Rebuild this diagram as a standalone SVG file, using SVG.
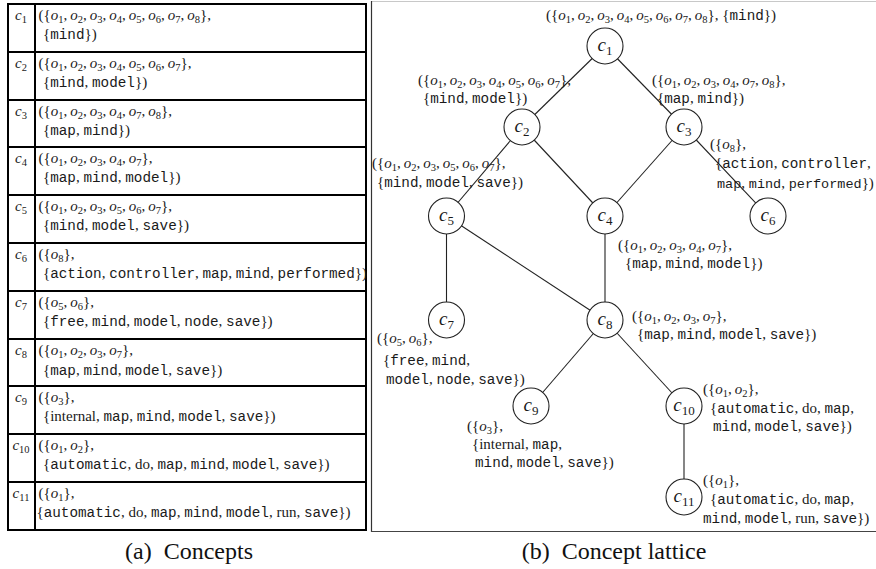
<svg xmlns="http://www.w3.org/2000/svg" width="876" height="569" viewBox="0 0 876 569">
<style>
.t{font-family:"Liberation Serif",serif;font-size:15px;fill:#1a1a1a}
.m{font-family:"Liberation Mono",monospace;font-size:14.3px}
.m2{font-family:"Liberation Mono",monospace;font-size:13.5px}
.i{font-style:italic}
.b{font-size:10.5px;baseline-shift:-3px}
.cap{font-family:"Liberation Serif",serif;font-size:24px;fill:#111;text-anchor:middle}
.nl{font-family:"Liberation Serif",serif;font-size:19px;fill:#1a1a1a;text-anchor:middle}
.nb{font-size:13px;baseline-shift:-4px}
.tb{fill:none;stroke:#000;stroke-width:2}
.edge{stroke:#222;stroke-width:1.1;fill:none}
.node{fill:#fff;stroke:#222;stroke-width:1.1}
</style>
<rect width="876" height="569" fill="#fff"/>

<g id="table">
<rect class="tb" x="8" y="4" width="358" height="526"/>
<path class="tb" d="M35,4V530M8,52H366M8,100H366M8,147H366M8,195H366M8,243H366M8,291H366M8,339H366M8,386H366M8,434H366M8,482H366"/>
<g id="row1">
<text class="t" x="21" y="20" text-anchor="middle"><tspan class="i">c</tspan><tspan class="b">1</tspan></text>
<text class="t" x="38.5" y="20">({<tspan class="i">o</tspan><tspan class="b">1</tspan>,&#8201;<tspan class="i">o</tspan><tspan class="b">2</tspan>,&#8201;<tspan class="i">o</tspan><tspan class="b">3</tspan>,&#8201;<tspan class="i">o</tspan><tspan class="b">4</tspan>,&#8201;<tspan class="i">o</tspan><tspan class="b">5</tspan>,&#8201;<tspan class="i">o</tspan><tspan class="b">6</tspan>,&#8201;<tspan class="i">o</tspan><tspan class="b">7</tspan>,&#8201;<tspan class="i">o</tspan><tspan class="b">8</tspan>},</text>
<text class="t" x="43" y="39">{<tspan class="m">mind</tspan>})</text>
</g>
<g id="row2">
<text class="t" x="21" y="68" text-anchor="middle"><tspan class="i">c</tspan><tspan class="b">2</tspan></text>
<text class="t" x="38.5" y="68">({<tspan class="i">o</tspan><tspan class="b">1</tspan>,&#8201;<tspan class="i">o</tspan><tspan class="b">2</tspan>,&#8201;<tspan class="i">o</tspan><tspan class="b">3</tspan>,&#8201;<tspan class="i">o</tspan><tspan class="b">4</tspan>,&#8201;<tspan class="i">o</tspan><tspan class="b">5</tspan>,&#8201;<tspan class="i">o</tspan><tspan class="b">6</tspan>,&#8201;<tspan class="i">o</tspan><tspan class="b">7</tspan>},</text>
<text class="t" x="43" y="87">{<tspan class="m">mind</tspan>, <tspan class="m">model</tspan>})</text>
</g>
<g id="row3">
<text class="t" x="21" y="116" text-anchor="middle"><tspan class="i">c</tspan><tspan class="b">3</tspan></text>
<text class="t" x="38.5" y="116">({<tspan class="i">o</tspan><tspan class="b">1</tspan>,&#8201;<tspan class="i">o</tspan><tspan class="b">2</tspan>,&#8201;<tspan class="i">o</tspan><tspan class="b">3</tspan>,&#8201;<tspan class="i">o</tspan><tspan class="b">4</tspan>,&#8201;<tspan class="i">o</tspan><tspan class="b">7</tspan>,&#8201;<tspan class="i">o</tspan><tspan class="b">8</tspan>},</text>
<text class="t" x="43" y="135">{<tspan class="m">map</tspan>, <tspan class="m">mind</tspan>})</text>
</g>
<g id="row4">
<text class="t" x="21" y="163" text-anchor="middle"><tspan class="i">c</tspan><tspan class="b">4</tspan></text>
<text class="t" x="38.5" y="163">({<tspan class="i">o</tspan><tspan class="b">1</tspan>,&#8201;<tspan class="i">o</tspan><tspan class="b">2</tspan>,&#8201;<tspan class="i">o</tspan><tspan class="b">3</tspan>,&#8201;<tspan class="i">o</tspan><tspan class="b">4</tspan>,&#8201;<tspan class="i">o</tspan><tspan class="b">7</tspan>},</text>
<text class="t" x="43" y="182">{<tspan class="m">map</tspan>, <tspan class="m">mind</tspan>, <tspan class="m">model</tspan>})</text>
</g>
<g id="row5">
<text class="t" x="21" y="211" text-anchor="middle"><tspan class="i">c</tspan><tspan class="b">5</tspan></text>
<text class="t" x="38.5" y="211">({<tspan class="i">o</tspan><tspan class="b">1</tspan>,&#8201;<tspan class="i">o</tspan><tspan class="b">2</tspan>,&#8201;<tspan class="i">o</tspan><tspan class="b">3</tspan>,&#8201;<tspan class="i">o</tspan><tspan class="b">5</tspan>,&#8201;<tspan class="i">o</tspan><tspan class="b">6</tspan>,&#8201;<tspan class="i">o</tspan><tspan class="b">7</tspan>},</text>
<text class="t" x="43" y="230">{<tspan class="m">mind</tspan>, <tspan class="m">model</tspan>, <tspan class="m">save</tspan>})</text>
</g>
<g id="row6">
<text class="t" x="21" y="259" text-anchor="middle"><tspan class="i">c</tspan><tspan class="b">6</tspan></text>
<text class="t" x="38.5" y="259">({<tspan class="i">o</tspan><tspan class="b">8</tspan>},</text>
<text class="t" x="43" y="278">{<tspan class="m">action</tspan>, <tspan class="m">controller</tspan>, <tspan class="m">map</tspan>, <tspan class="m">mind</tspan>, <tspan class="m">performed</tspan>})</text>
</g>
<g id="row7">
<text class="t" x="21" y="307" text-anchor="middle"><tspan class="i">c</tspan><tspan class="b">7</tspan></text>
<text class="t" x="38.5" y="307">({<tspan class="i">o</tspan><tspan class="b">5</tspan>,&#8201;<tspan class="i">o</tspan><tspan class="b">6</tspan>},</text>
<text class="t" x="43" y="326">{<tspan class="m">free</tspan>, <tspan class="m">mind</tspan>, <tspan class="m">model</tspan>, <tspan class="m">node</tspan>, <tspan class="m">save</tspan>})</text>
</g>
<g id="row8">
<text class="t" x="21" y="355" text-anchor="middle"><tspan class="i">c</tspan><tspan class="b">8</tspan></text>
<text class="t" x="38.5" y="355">({<tspan class="i">o</tspan><tspan class="b">1</tspan>,&#8201;<tspan class="i">o</tspan><tspan class="b">2</tspan>,&#8201;<tspan class="i">o</tspan><tspan class="b">3</tspan>,&#8201;<tspan class="i">o</tspan><tspan class="b">7</tspan>},</text>
<text class="t" x="43" y="375">{<tspan class="m">map</tspan>, <tspan class="m">mind</tspan>, <tspan class="m">model</tspan>, <tspan class="m">save</tspan>})</text>
</g>
<g id="row9">
<text class="t" x="21" y="402" text-anchor="middle"><tspan class="i">c</tspan><tspan class="b">9</tspan></text>
<text class="t" x="38.5" y="402">({<tspan class="i">o</tspan><tspan class="b">3</tspan>},</text>
<text class="t" x="43" y="421">{internal, <tspan class="m">map</tspan>, <tspan class="m">mind</tspan>, <tspan class="m">model</tspan>, <tspan class="m">save</tspan>})</text>
</g>
<g id="row10">
<text class="t" x="21" y="450" text-anchor="middle"><tspan class="i">c</tspan><tspan class="b">10</tspan></text>
<text class="t" x="38.5" y="450">({<tspan class="i">o</tspan><tspan class="b">1</tspan>,&#8201;<tspan class="i">o</tspan><tspan class="b">2</tspan>},</text>
<text class="t" x="43" y="469">{<tspan class="m">automatic</tspan>, do, <tspan class="m">map</tspan>, <tspan class="m">mind</tspan>, <tspan class="m">model</tspan>, <tspan class="m">save</tspan>})</text>
</g>
<g id="row11">
<text class="t" x="21" y="498" text-anchor="middle"><tspan class="i">c</tspan><tspan class="b">11</tspan></text>
<text class="t" x="38.5" y="498">({<tspan class="i">o</tspan><tspan class="b">1</tspan>},</text>
<text class="t" x="36.5" y="517">{<tspan class="m">automatic</tspan>, do, <tspan class="m">map</tspan>, <tspan class="m">mind</tspan>, <tspan class="m">model</tspan>, run, <tspan class="m">save</tspan>})</text>
</g>
</g>

<g id="frame">
<line x1="371" y1="1.5" x2="876" y2="1.5" stroke="#c8c8c8" stroke-width="1"/>
<line x1="371.5" y1="1" x2="371.5" y2="532" stroke="#333" stroke-width="1.2"/>
<line x1="371" y1="531.5" x2="876" y2="531.5" stroke="#444" stroke-width="1.2"/>
</g>

<g id="connectors">
<line class="edge" x1="605" y1="46" x2="522" y2="127"/>
<line class="edge" x1="605" y1="46" x2="684" y2="127"/>
<line class="edge" x1="522" y1="127" x2="446.5" y2="216"/>
<line class="edge" x1="522" y1="127" x2="605" y2="216"/>
<line class="edge" x1="684" y1="127" x2="605" y2="216"/>
<line class="edge" x1="684" y1="127" x2="768" y2="216"/>
<line class="edge" x1="446.5" y1="216" x2="446.5" y2="320"/>
<line class="edge" x1="446.5" y1="216" x2="605" y2="320"/>
<line class="edge" x1="605" y1="216" x2="605" y2="320"/>
<line class="edge" x1="605" y1="320" x2="531" y2="406"/>
<line class="edge" x1="605" y1="320" x2="684" y2="406"/>
<line class="edge" x1="684" y1="406" x2="684" y2="497"/>
</g>

<g id="c1">
<circle class="node" cx="605" cy="46" r="18"/>
<text class="nl" x="605" y="51"><tspan class="i">c</tspan><tspan class="nb">1</tspan></text>
<text class="t" x="546" y="20">({<tspan class="i">o</tspan><tspan class="b">1</tspan>,&#8201;<tspan class="i">o</tspan><tspan class="b">2</tspan>,&#8201;<tspan class="i">o</tspan><tspan class="b">3</tspan>,&#8201;<tspan class="i">o</tspan><tspan class="b">4</tspan>,&#8201;<tspan class="i">o</tspan><tspan class="b">5</tspan>,&#8201;<tspan class="i">o</tspan><tspan class="b">6</tspan>,&#8201;<tspan class="i">o</tspan><tspan class="b">7</tspan>,&#8201;<tspan class="i">o</tspan><tspan class="b">8</tspan>}, {<tspan class="m">mind</tspan>})</text>
</g>
<g id="c2">
<circle class="node" cx="522" cy="127" r="18"/>
<text class="nl" x="522" y="132"><tspan class="i">c</tspan><tspan class="nb">2</tspan></text>
<text class="t" x="418" y="85">({<tspan class="i">o</tspan><tspan class="b">1</tspan>,&#8201;<tspan class="i">o</tspan><tspan class="b">2</tspan>,&#8201;<tspan class="i">o</tspan><tspan class="b">3</tspan>,&#8201;<tspan class="i">o</tspan><tspan class="b">4</tspan>,&#8201;<tspan class="i">o</tspan><tspan class="b">5</tspan>,&#8201;<tspan class="i">o</tspan><tspan class="b">6</tspan>,&#8201;<tspan class="i">o</tspan><tspan class="b">7</tspan>},</text>
<text class="t" x="423" y="103">{<tspan class="m">mind</tspan>, <tspan class="m">model</tspan>})</text>
</g>
<g id="c3">
<circle class="node" cx="684" cy="127" r="18"/>
<text class="nl" x="684" y="132"><tspan class="i">c</tspan><tspan class="nb">3</tspan></text>
<text class="t" x="652" y="85">({<tspan class="i">o</tspan><tspan class="b">1</tspan>,&#8201;<tspan class="i">o</tspan><tspan class="b">2</tspan>,&#8201;<tspan class="i">o</tspan><tspan class="b">3</tspan>,&#8201;<tspan class="i">o</tspan><tspan class="b">4</tspan>,&#8201;<tspan class="i">o</tspan><tspan class="b">7</tspan>,&#8201;<tspan class="i">o</tspan><tspan class="b">8</tspan>},</text>
<text class="t" x="657" y="103">{<tspan class="m">map</tspan>, <tspan class="m">mind</tspan>})</text>
</g>
<g id="c4">
<circle class="node" cx="605" cy="216" r="18"/>
<text class="nl" x="605" y="221"><tspan class="i">c</tspan><tspan class="nb">4</tspan></text>
<text class="t" x="618" y="250">({<tspan class="i">o</tspan><tspan class="b">1</tspan>,&#8201;<tspan class="i">o</tspan><tspan class="b">2</tspan>,&#8201;<tspan class="i">o</tspan><tspan class="b">3</tspan>,&#8201;<tspan class="i">o</tspan><tspan class="b">4</tspan>,&#8201;<tspan class="i">o</tspan><tspan class="b">7</tspan>},</text>
<text class="t" x="625" y="268">{<tspan class="m">map</tspan>, <tspan class="m">mind</tspan>, <tspan class="m">model</tspan>})</text>
</g>
<g id="c5">
<circle class="node" cx="446.5" cy="216" r="18"/>
<text class="nl" x="446.5" y="221"><tspan class="i">c</tspan><tspan class="nb">5</tspan></text>
<text class="t" x="372" y="168">({<tspan class="i">o</tspan><tspan class="b">1</tspan>,&#8201;<tspan class="i">o</tspan><tspan class="b">2</tspan>,&#8201;<tspan class="i">o</tspan><tspan class="b">3</tspan>,&#8201;<tspan class="i">o</tspan><tspan class="b">5</tspan>,&#8201;<tspan class="i">o</tspan><tspan class="b">6</tspan>,&#8201;<tspan class="i">o</tspan><tspan class="b">7</tspan>},</text>
<text class="t" x="377" y="187">{<tspan class="m">mind</tspan>, <tspan class="m">model</tspan>, <tspan class="m">save</tspan>})</text>
</g>
<g id="c6">
<circle class="node" cx="768" cy="216" r="18"/>
<text class="nl" x="768" y="221"><tspan class="i">c</tspan><tspan class="nb">6</tspan></text>
<text class="t" x="710" y="149">({<tspan class="i">o</tspan><tspan class="b">8</tspan>},</text>
<text class="t" x="715" y="168">{<tspan class="m">action</tspan>, <tspan class="m">controller</tspan>,</text>
<text class="t" x="717" y="188"><tspan class="m2">map</tspan>, <tspan class="m2">mind</tspan>, <tspan class="m2">performed</tspan>})</text>
</g>
<g id="c7">
<circle class="node" cx="446.5" cy="320" r="18"/>
<text class="nl" x="446.5" y="325"><tspan class="i">c</tspan><tspan class="nb">7</tspan></text>
<text class="t" x="377" y="343">({<tspan class="i">o</tspan><tspan class="b">5</tspan>,&#8201;<tspan class="i">o</tspan><tspan class="b">6</tspan>},</text>
<text class="t" x="383" y="365">{<tspan class="m">free</tspan>, <tspan class="m">mind</tspan>,</text>
<text class="t" x="386" y="384"><tspan class="m">model</tspan>, <tspan class="m">node</tspan>, <tspan class="m">save</tspan>})</text>
</g>
<g id="c8">
<circle class="node" cx="605" cy="320" r="18"/>
<text class="nl" x="605" y="325"><tspan class="i">c</tspan><tspan class="nb">8</tspan></text>
<text class="t" x="632" y="321">({<tspan class="i">o</tspan><tspan class="b">1</tspan>,&#8201;<tspan class="i">o</tspan><tspan class="b">2</tspan>,&#8201;<tspan class="i">o</tspan><tspan class="b">3</tspan>,&#8201;<tspan class="i">o</tspan><tspan class="b">7</tspan>},</text>
<text class="t" x="637" y="339">{<tspan class="m">map</tspan>, <tspan class="m">mind</tspan>, <tspan class="m">model</tspan>, <tspan class="m">save</tspan>})</text>
</g>
<g id="c9">
<circle class="node" cx="531" cy="406" r="18"/>
<text class="nl" x="531" y="411"><tspan class="i">c</tspan><tspan class="nb">9</tspan></text>
<text class="t" x="467" y="431">({<tspan class="i">o</tspan><tspan class="b">3</tspan>},</text>
<text class="t" x="472" y="449">{internal, <tspan class="m">map</tspan>,</text>
<text class="t" x="475" y="467"><tspan class="m">mind</tspan>, <tspan class="m">model</tspan>, <tspan class="m">save</tspan>})</text>
</g>
<g id="c10">
<circle class="node" cx="684" cy="406" r="18"/>
<text class="nl" x="684" y="411"><tspan class="i">c</tspan><tspan class="nb">10</tspan></text>
<text class="t" x="703" y="394">({<tspan class="i">o</tspan><tspan class="b">1</tspan>,&#8201;<tspan class="i">o</tspan><tspan class="b">2</tspan>},</text>
<text class="t" x="710" y="413">{<tspan class="m">automatic</tspan>, do, <tspan class="m">map</tspan>,</text>
<text class="t" x="713" y="431"><tspan class="m">mind</tspan>, <tspan class="m">model</tspan>, <tspan class="m">save</tspan>})</text>
</g>
<g id="c11">
<circle class="node" cx="684" cy="497" r="18"/>
<text class="nl" x="684" y="502"><tspan class="i">c</tspan><tspan class="nb">11</tspan></text>
<text class="t" x="703" y="485">({<tspan class="i">o</tspan><tspan class="b">1</tspan>},</text>
<text class="t" x="710" y="504">{<tspan class="m">automatic</tspan>, do, <tspan class="m">map</tspan>,</text>
<text class="t" x="703" y="523"><tspan class="m">mind</tspan>, <tspan class="m">model</tspan>, run, <tspan class="m">save</tspan>})</text>
</g>

<g id="captions">
<text class="cap" x="189" y="559">(a)&#160; Concepts</text>
<text class="cap" x="614" y="559">(b)&#160; Concept lattice</text>
</g>
</svg>
